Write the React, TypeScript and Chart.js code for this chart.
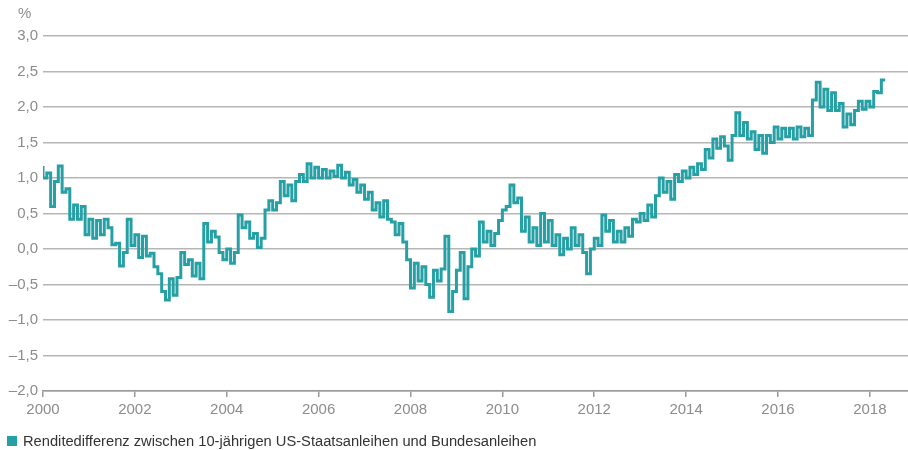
import React, { useEffect, useRef } from "react";
import { Chart, registerables } from "chart.js";

Chart.register(...registerables);

// Monthly spread values (percentage points), Jan..Dec of each year
const START_YEAR = 2000;
const spread2000 = [1.17, 1.0, 1.07, 0.6, 0.95, 1.17, 0.8, 0.85, 0.42, 0.62, 0.42, 0.6];
const spread2001 = [0.2, 0.42, 0.15, 0.4, 0.2, 0.42, 0.3, 0.06, 0.08, -0.24, -0.05, 0.42];
const spread2002 = [0.05, 0.2, -0.12, 0.18, -0.1, -0.06, -0.25, -0.35, -0.6, -0.72, -0.42, -0.65];
const spread2003 = [-0.4, -0.05, -0.22, -0.15, -0.38, -0.2, -0.42, 0.36, 0.1, 0.25, 0.17, -0.05];
const spread2004 = [-0.15, 0.0, -0.2, -0.05, 0.48, 0.3, 0.38, 0.15, 0.22, 0.02, 0.15, 0.55];
const spread2005 = [0.68, 0.55, 0.65, 0.95, 0.75, 0.9, 0.68, 0.95, 1.05, 0.95, 1.2, 1.0];
const spread2006 = [1.15, 1.0, 1.12, 1.0, 1.1, 1.02, 1.18, 1.0, 1.08, 0.9, 0.98, 0.8];
const spread2007 = [0.9, 0.7, 0.8, 0.55, 0.65, 0.45, 0.68, 0.42, 0.38, 0.2, 0.36, 0.1];
const spread2008 = [-0.15, -0.55, -0.2, -0.45, -0.25, -0.5, -0.68, -0.3, -0.45, -0.28, 0.18, -0.88];
const spread2009 = [-0.6, -0.3, -0.05, -0.7, -0.25, 0.0, -0.1, 0.38, 0.1, 0.25, 0.05, 0.22];
const spread2010 = [0.4, 0.55, 0.6, 0.9, 0.65, 0.72, 0.25, 0.45, 0.1, 0.3, 0.05, 0.5];
const spread2011 = [0.1, 0.4, 0.05, 0.2, -0.08, 0.15, 0.0, 0.3, 0.05, 0.2, -0.05, -0.35];
const spread2012 = [0.0, 0.15, 0.05, 0.48, 0.25, 0.4, 0.1, 0.25, 0.1, 0.3, 0.18, 0.42];
const spread2013 = [0.38, 0.5, 0.4, 0.62, 0.45, 0.75, 1.0, 0.8, 0.95, 0.7, 1.05, 0.95];
const spread2014 = [1.1, 1.0, 1.15, 1.05, 1.2, 1.12, 1.4, 1.28, 1.55, 1.42, 1.58, 1.45];
const spread2015 = [1.25, 1.6, 1.92, 1.6, 1.78, 1.55, 1.65, 1.4, 1.6, 1.35, 1.6, 1.5];
const spread2016 = [1.72, 1.55, 1.7, 1.58, 1.7, 1.55, 1.72, 1.58, 1.7, 1.6, 2.1, 2.35];
const spread2017 = [2.0, 2.25, 1.95, 2.2, 1.95, 2.05, 1.72, 1.9, 1.75, 1.95, 2.08, 1.97];
const spread2018 = [2.08, 2.0, 2.22, 2.2, 2.38];

const yearlySpread = [
  spread2000, spread2001, spread2002, spread2003, spread2004, spread2005,
  spread2006, spread2007, spread2008, spread2009, spread2010, spread2011,
  spread2012, spread2013, spread2014, spread2015, spread2016, spread2017,
  spread2018,
];

const xTickYears = [2000, 2002, 2004, 2006, 2008, 2010, 2012, 2014, 2016, 2018];
const yTickValues = [-2, -1.5, -1, -0.5, 0, 0.5, 1, 1.5, 2, 2.5, 3];
const seriesLabel = "Renditedifferenz zwischen 10-jährigen US-Staatsanleihen und Bundesanleihen";
const unitLabel = "%";

const TEAL = "#26a0a4";
const TICK_COLOR = "#8c8c8c";
const GRID_COLOR = "#b6b6b6";
const FONT = '"Liberation Sans", Arial, sans-serif';

const fmtY = (v: number) => v.toFixed(1).replace(".", ",").replace("-", "\u2013");

export default function App() {
  const ref = useRef<HTMLCanvasElement | null>(null);

  useEffect(() => {
    if (!ref.current) return;
    const points = yearlySpread.flatMap((arr, yi) =>
      arr.map((v, mi) => ({ x: START_YEAR + yi + mi / 12, y: v }))
    );

    const extras = {
      id: "extras",
      afterDraw(chart: any) {
        const ctx = chart.ctx;
        ctx.save();
        ctx.font = `15px ${FONT}`;
        ctx.fillStyle = TICK_COLOR;
        ctx.textBaseline = "alphabetic";
        ctx.textAlign = "left";
        ctx.fillText(unitLabel, 18, 18);
        ctx.fillStyle = TEAL;
        ctx.fillRect(7, 436, 10, 10);
        ctx.font = `14.7px ${FONT}`;
        ctx.fillStyle = "#333333";
        ctx.fillText(seriesLabel, 23, 446);
        ctx.restore();
      },
    };

    const chart = new Chart(ref.current, {
      type: "line",
      data: {
        datasets: [
          {
            label: seriesLabel,
            data: points,
            borderColor: TEAL,
            backgroundColor: TEAL,
            borderWidth: 3,
            pointRadius: 0,
            stepped: "after",
            borderJoinStyle: "miter",
            fill: false,
          },
        ],
      },
      options: {
        animation: false,
        responsive: false,
        devicePixelRatio: 1,
        layout: { padding: { top: 36, bottom: 29, left: 0, right: 0 } },
        plugins: { legend: { display: false }, tooltip: { enabled: false } },
        scales: {
          x: {
            type: "linear",
            min: 2000,
            max: 2018.83,
            afterBuildTicks: (s: any) => {
              s.ticks = xTickYears.map((v) => ({ value: v }));
            },
            afterFit: (s: any) => {
              s.height = 30;
            },
            ticks: {
              color: TICK_COLOR,
              font: { family: FONT, size: 15 },
              padding: 4,
              maxRotation: 0,
              autoSkip: false,
              callback: (v: any) => String(v),
            },
            grid: {
              drawOnChartArea: false,
              drawTicks: true,
              tickLength: 6,
              color: "#9a9a9a",
              lineWidth: 1.5,
            },
            border: { display: true, color: "#9a9a9a", width: 1.5 },
          },
          y: {
            min: -2,
            max: 3,
            afterBuildTicks: (s: any) => {
              s.ticks = yTickValues.map((v) => ({ value: v }));
            },
            afterFit: (s: any) => {
              s.width = 43;
            },
            ticks: {
              color: TICK_COLOR,
              font: { family: FONT, size: 15 },
              padding: 5,
              callback: (v: any) => fmtY(Number(v)),
            },
            grid: { color: GRID_COLOR, lineWidth: 1.5, drawTicks: false },
            border: { display: false },
          },
        },
      },
      plugins: [extras],
    } as any);

    return () => chart.destroy();
  }, []);

  return (
    <div style={{ position: "absolute", left: 0, top: 0, width: 908, height: 450, background: "#fff" }}>
      <canvas ref={ref} width={908} height={450} />
    </div>
  );
}
